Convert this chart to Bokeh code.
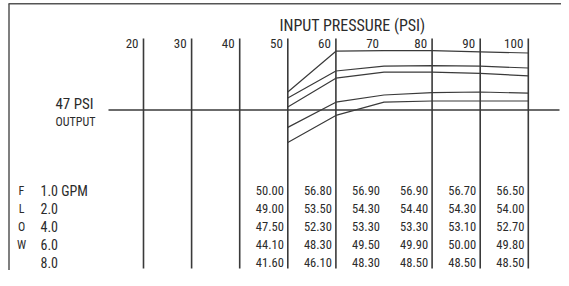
from bokeh.plotting import figure
from bokeh.models import Range1d
from bokeh.core.properties import value
from bokeh.embed import file_html
from bokeh.resources import INLINE

# ---------------- data ----------------
input_psi = [50, 60, 70, 80, 90, 100]
tick_psi = [20, 30, 40, 50, 60, 70, 80, 90, 100]
tick_labels = ["20", "30", "40", "50", "60", "70", "80", "90", "100"]
grid_psi = [20, 30, 40, 50, 60, 80, 90, 100]
flow_labels = ["1.0 GPM", "2.0", "4.0", "6.0", "8.0"]
flow_letters = ["F", "L", "O", "W", ""]
out_1gpm = [50.00, 56.80, 56.90, 56.90, 56.70, 56.50]
out_2gpm = [49.00, 53.50, 54.30, 54.40, 54.30, 54.00]
out_4gpm = [47.50, 52.30, 53.30, 53.30, 53.10, 52.70]
out_6gpm = [44.10, 48.30, 49.50, 49.90, 50.00, 49.80]
out_8gpm = [41.60, 46.10, 48.30, 48.50, 48.50, 48.50]
setpoint_psi = 47
series = [out_1gpm, out_2gpm, out_4gpm, out_6gpm, out_8gpm]

# ---------------- layout helpers (picture pixels -> data) ----------------
W, H = 561, 270
X20, XS = 143.0, 4.81        # px of 20 psi input, px per psi
Y47, YS = 109.5, 6.0          # px of 47 psi output, px per psi


def dx(px):
    return 20 + (px - X20) / XS


def dy(px):
    return 47 + (Y47 - px) / YS


FONT = value("Roboto Condensed")
TXT = "#2b2b2b"
LN = "#3a3a3a"

p = figure(width=W, height=H, output_backend="svg", toolbar_location=None,
           x_range=Range1d(dx(0), dx(W)), y_range=Range1d(dy(H), dy(0)),
           min_border=0)
p.axis.visible = False
p.grid.visible = False
p.outline_line_color = None
p.background_fill_color = "white"

# frame: top and left edges
p.segment(x0=[dx(8), dx(8.5)], y0=[dy(3.2), dy(3.2)], x1=[dx(W), dx(8.5)], y1=[dy(3.2), dy(H)],
          line_color="#555555", line_width=1.5)

# vertical input-pressure lines
p.segment(x0=grid_psi, y0=[dy(38)] * len(grid_psi), x1=grid_psi,
          y1=[dy(268)] * len(grid_psi), line_color=LN, line_width=1.6)

# 47 psi output line
p.segment(x0=[dx(108)], y0=[setpoint_psi], x1=[dx(559)], y1=[setpoint_psi],
          line_color=LN, line_width=1.3)

# curves
for s in series:
    p.line(input_psi, s, line_color=LN, line_width=1.2)

# tick labels
p.text(x=tick_psi, y=[dy(43)] * len(tick_psi), text=tick_labels, x_offset=-5,
       text_align="right", text_baseline="middle", text_font=FONT,
       text_font_size="13px", text_color=TXT)

# title
p.text(x=[dx(352)], y=[dy(25)], text=["INPUT PRESSURE (PSI)"], text_align="center",
       text_baseline="middle", text_font=FONT, text_font_size="16px", text_color=TXT)

# 47 PSI output label
p.text(x=[dx(74)], y=[dy(103)], text=["%d PSI" % setpoint_psi], text_align="center",
       text_baseline="middle", text_font=FONT, text_font_size="15px", text_color=TXT)
p.text(x=[dx(75)], y=[dy(121)], text=["OUTPUT"], text_align="center",
       text_baseline="middle", text_font=FONT, text_font_size="12px", text_color=TXT)

# table
for i, s in enumerate(series):
    ypx = 190 + i * 18.1
    p.text(x=input_psi, y=[dy(ypx)] * len(input_psi), text=["%.2f" % v for v in s],
           x_offset=-4, text_align="right", text_baseline="middle", text_font=FONT,
           text_font_size="12.5px", text_color=TXT)
    p.text(x=[dx(40)], y=[dy(ypx)], text=[flow_labels[i]], text_align="left",
           text_baseline="middle", text_font=FONT, text_font_size="14px", text_color=TXT)
    if flow_letters[i]:
        p.text(x=[dx(21)], y=[dy(ypx)], text=[flow_letters[i]], text_align="center",
               text_baseline="middle", text_font=FONT, text_font_size="12px",
               text_color=TXT)

open("out.html", "w").write(file_html(p, INLINE))
